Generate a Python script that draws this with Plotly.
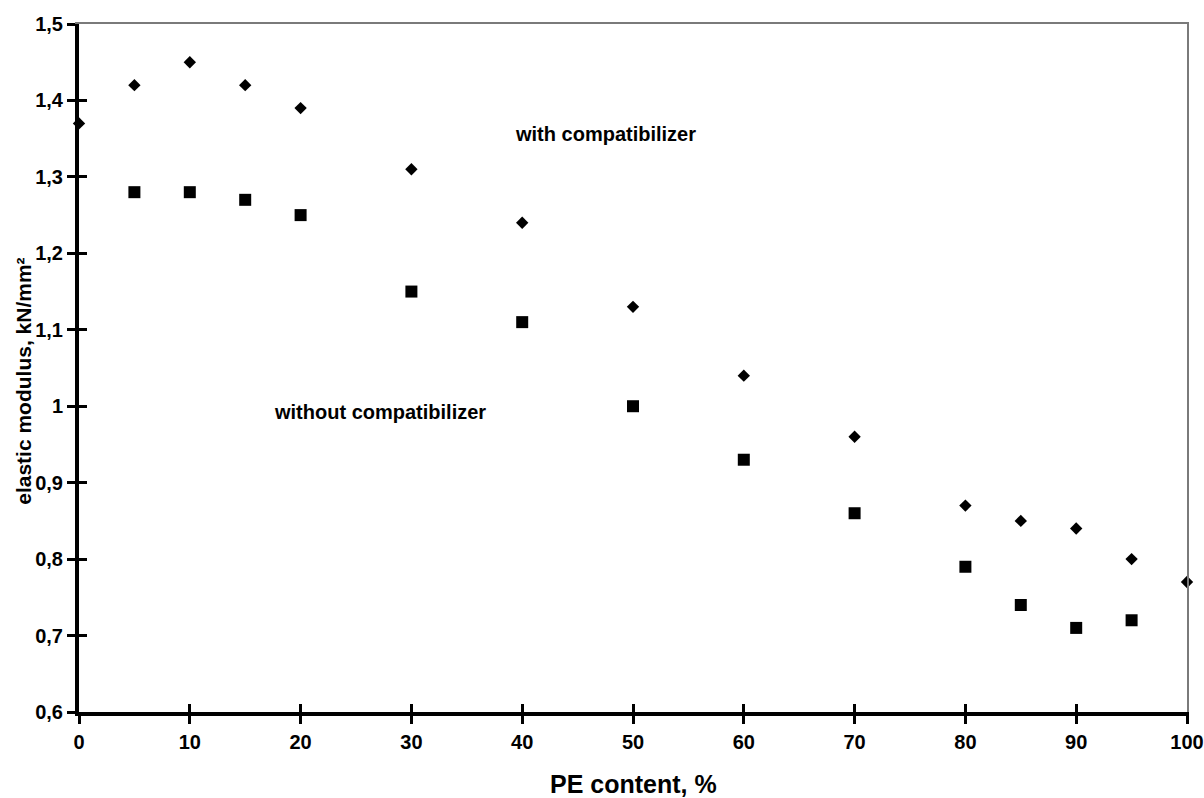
import plotly.graph_objects as go

# Data
pe_with = [0, 5, 10, 15, 20, 30, 40, 50, 60, 70, 80, 85, 90, 95, 100]
mod_with = [1.37, 1.42, 1.45, 1.42, 1.39, 1.31, 1.24, 1.13, 1.04, 0.96, 0.87, 0.85, 0.84, 0.80, 0.77]

pe_without = [5, 10, 15, 20, 30, 40, 50, 60, 70, 80, 85, 90, 95]
mod_without = [1.28, 1.28, 1.27, 1.25, 1.15, 1.11, 1.00, 0.93, 0.86, 0.79, 0.74, 0.71, 0.72]

x_ticks = [0, 10, 20, 30, 40, 50, 60, 70, 80, 90, 100]
y_ticks = [0.6, 0.7, 0.8, 0.9, 1.0, 1.1, 1.2, 1.3, 1.4, 1.5]
y_ticktext = ["0,6", "0,7", "0,8", "0,9", "1", "1,1", "1,2", "1,3", "1,4", "1,5"]

FONT = "Liberation Sans, Arial, sans-serif"
XR = [0, 100]
YR = [0.6, 1.5]

fig = go.Figure()
fig.add_trace(go.Scatter(x=pe_with, y=mod_with, mode="markers", name="with compatibilizer",
                         marker=dict(symbol="diamond", size=9.5, color="black"),
                         cliponaxis=False))
fig.add_trace(go.Scatter(x=pe_without, y=mod_without, mode="markers", name="without compatibilizer",
                         marker=dict(symbol="square", size=12, color="black"),
                         cliponaxis=False))
# empty helper traces so the overlay axes (inner ticks / thin frame) are drawn
fig.add_trace(go.Scatter(x=[], y=[], xaxis="x2", yaxis="y2", showlegend=False, hoverinfo="skip"))
fig.add_trace(go.Scatter(x=[], y=[], xaxis="x3", yaxis="y3", showlegend=False, hoverinfo="skip"))

tickfont = dict(family=FONT, size=20, color="black", weight="bold")

fig.update_layout(
    width=1204, height=798,
    margin=dict(l=79, r=17, t=24, b=86),
    paper_bgcolor="white", plot_bgcolor="white",
    showlegend=False,
    font=dict(family=FONT, color="black"),
    xaxis=dict(range=XR, tickvals=x_ticks, ticks="outside", ticklen=8, tickwidth=3,
               tickcolor="black", showline=True, linecolor="black", linewidth=4,
               showgrid=False, zeroline=False, tickfont=tickfont, ticklabelstandoff=1,
               layer="below traces", automargin=False),
    yaxis=dict(range=YR, tickvals=y_ticks, ticktext=y_ticktext, ticks="outside", ticklen=8,
               tickwidth=3, tickcolor="black", showline=True, linecolor="black", linewidth=4,
               showgrid=False, zeroline=False, tickfont=tickfont, ticklabelstandoff=0,
               layer="below traces", automargin=False),
    xaxis2=dict(range=XR, overlaying="x", anchor="y2", side="bottom", tickvals=x_ticks,
                ticks="inside", ticklen=8, tickwidth=3, tickcolor="black", showticklabels=False,
                showline=False, showgrid=False, zeroline=False, automargin=False),
    yaxis2=dict(range=YR, overlaying="y", anchor="x2", side="left", tickvals=y_ticks,
                ticks="inside", ticklen=8, tickwidth=3, tickcolor="black", showticklabels=False,
                showline=False, showgrid=False, zeroline=False, automargin=False),
    xaxis3=dict(range=XR, overlaying="x", anchor="y3", side="top", showticklabels=False,
                ticks="", showline=True, linecolor="#7a7a7a", linewidth=1.5,
                showgrid=False, zeroline=False, automargin=False),
    yaxis3=dict(range=YR, overlaying="y", anchor="x3", side="right", showticklabels=False,
                ticks="", showline=True, linecolor="#7a7a7a", linewidth=1.5,
                showgrid=False, zeroline=False, automargin=False),
    annotations=[
        dict(text="PE content, %", xref="paper", yref="paper",
             x=0.5, y=-0.1047, showarrow=False, xanchor="center", yanchor="middle",
             font=dict(family=FONT, size=25, color="black", weight="bold")),
        dict(text="elastic modulus, kN/mm²", xref="paper", yref="paper",
             x=-0.0496, y=0.48, textangle=-90, showarrow=False,
             xanchor="center", yanchor="middle",
             font=dict(family=FONT, size=21, color="black", weight="bold")),
        dict(text="with compatibilizer", x=47.5, y=1.356, xref="x", yref="y",
             showarrow=False, xanchor="center", yanchor="middle",
             font=dict(family=FONT, size=20, color="black", weight="bold")),
        dict(text="without compatibilizer", x=27.2, y=0.992, xref="x", yref="y",
             showarrow=False, xanchor="center", yanchor="middle",
             font=dict(family=FONT, size=20, color="black", weight="bold")),
    ],
)

fig.write_html("out.html", config={"displayModeBar": False},
               post_script="document.body.style.margin='0';")
